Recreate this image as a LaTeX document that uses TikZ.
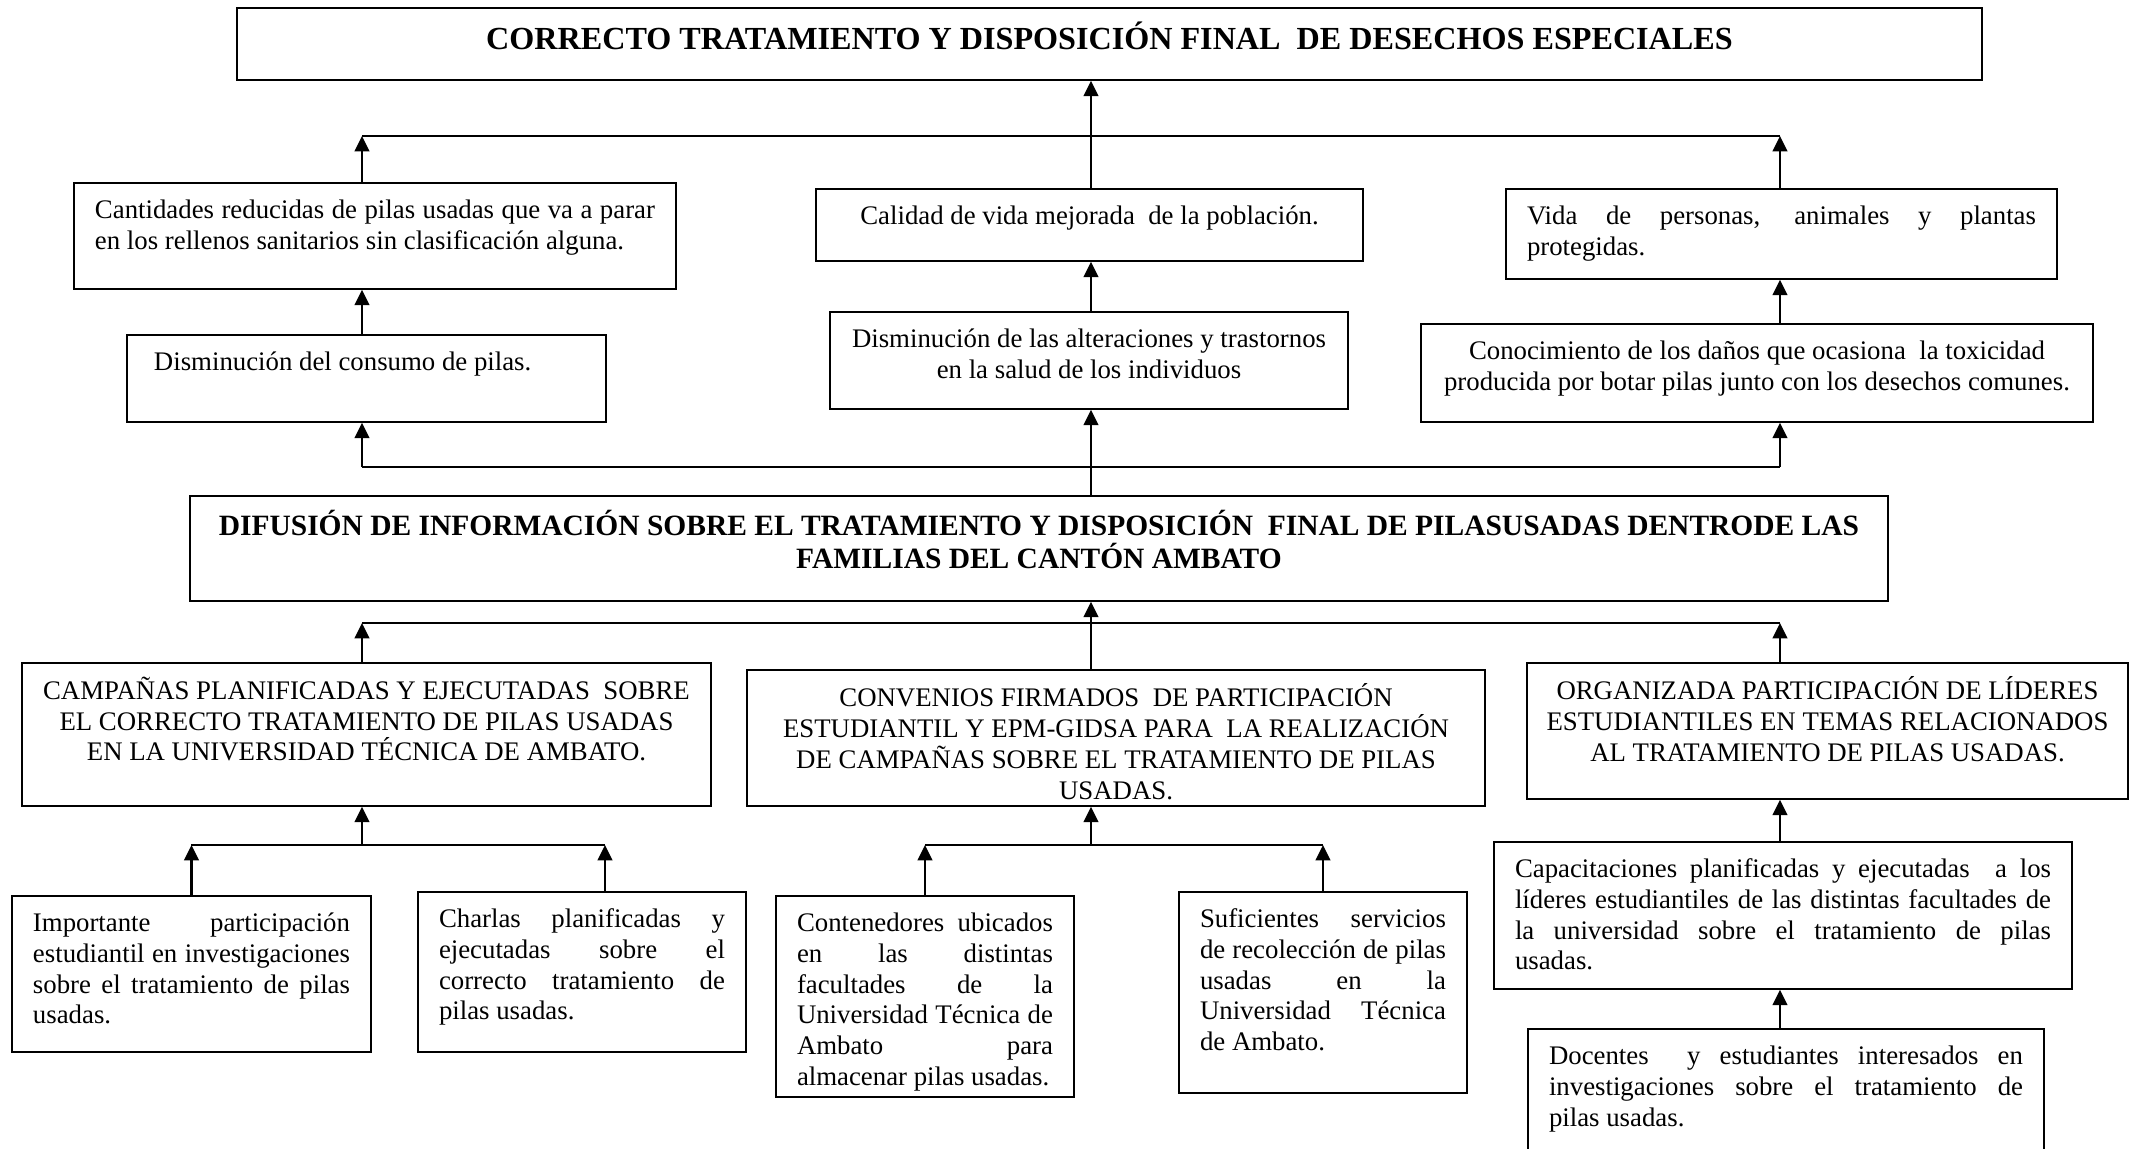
\documentclass[tikz,border=0pt]{standalone}
\usepackage{fontspec}
\setmainfont{Liberation Serif}
\usetikzlibrary{arrows.meta}
\newlength\upx
\setlength\upx{0.4478pt}
\tolerance=9999
\emergencystretch=2em
\hyphenpenalty=10000
\exhyphenpenalty=10000
% caja de texto con alto fijo y texto arriba
\newcommand{\cajatexto}[4][]{\parbox[c][#3\upx][t]{#2\upx}{\lineskiplimit=-\maxdimen #1\strut #4}}
\tikzset{
  caja/.style={draw, line width=0.9pt, anchor=north west, inner xsep=9.4pt, inner ysep=6.2pt, font=\fontsize{12}{13.8}\selectfont},
  cajac/.style={caja, inner xsep=1.8pt},
  titulo/.style={cajac, font=\bfseries\fontsize{14.4}{16.6}\selectfont},
  flecha/.style={-{Triangle[length=6.9pt,width=6.6pt]}, line width=0.9pt},
  barra/.style={line width=0.9pt}
}
\begin{document}
\begin{tikzpicture}[x=0.4478pt, y=-0.4478pt]
    \useasboundingbox (0,0) rectangle (2139,1149);

    % fin
    \node[titulo] (fin) at (236,7) {\cajatexto[\centering]{1737}{44}{CORRECTO TRATAMIENTO Y DISPOSICIÓN FINAL\ \ DE DESECHOS ESPECIALES}};

    % efectos
    \node[caja] (cant) at (73,182) {\cajatexto{560}{78}{Cantidades reducidas de pilas usadas que va a parar\linebreak en los rellenos sanitarios sin clasificación alguna.}};
    \node[cajac] (calidad) at (815,188) {\cajatexto[\centering]{539}{44}{Calidad de vida mejorada\ \ de la población.}};
    \node[caja] (vida) at (1505,188) {\cajatexto{509}{62}{Vida de personas, animales y plantas\linebreak protegidas.}};
    \node[caja] (dcons) at (126,334) {\cajatexto[\raggedright]{437}{59}{\hspace*{6\upx}Disminución del consumo de pilas.}};
    \node[cajac] (dalt) at (829,311) {\cajatexto[\centering]{510}{69}{Disminución de las alteraciones y trastornos\\ en la salud de los individuos}};
    \node[cajac] (conoc) at (1420,323) {\cajatexto[\centering]{664}{70}{Conocimiento de los daños que ocasiona\ \ la toxicidad\\ producida por botar pilas junto con los desechos comunes.}};

    % problema central
    \node[cajac, font=\bfseries\fontsize{13.2}{15.1}\selectfont] (difu) at (189,495) {\cajatexto[\centering]{1690}{77}{DIFUSIÓN DE INFORMACIÓN SOBRE EL TRATAMIENTO Y DISPOSICIÓN\ \ FINAL DE PILASUSADAS DENTRODE LAS\\ FAMILIAS DEL CANTÓN AMBATO}};

    % medios
    \node[cajac] (camp) at (21,662) {\cajatexto[\centering]{681}{115}{CAMPAÑAS PLANIFICADAS Y EJECUTADAS\ \ SOBRE\\ EL CORRECTO TRATAMIENTO DE PILAS USADAS\\ EN LA UNIVERSIDAD TÉCNICA DE AMBATO.}};
    \node[cajac] (conv) at (746,669) {\cajatexto[\centering]{730}{108}{CONVENIOS FIRMADOS\ \ DE PARTICIPACIÓN\\ ESTUDIANTIL Y EPM-GIDSA PARA\ \ LA REALIZACIÓN\\ DE CAMPAÑAS SOBRE EL TRATAMIENTO DE PILAS\\ USADAS.}};
    \node[cajac] (orga) at (1526,662) {\cajatexto[\centering]{593}{108}{ORGANIZADA PARTICIPACIÓN DE LÍDERES\\ ESTUDIANTILES EN TEMAS RELACIONADOS\\ AL TRATAMIENTO DE PILAS USADAS.}};

    % actividades
    \node[caja] (impo) at (11,895) {\cajatexto{317}{128}{Importante participación\linebreak estudiantil en investigaciones\linebreak sobre el tratamiento de pilas\linebreak usadas.}};
    \node[caja] (charl) at (417,891) {\cajatexto{286}{132}{Charlas planificadas y\linebreak ejecutadas sobre el\linebreak correcto tratamiento de\linebreak pilas usadas.}};
    \node[caja] (conte) at (775,895) {\cajatexto{256}{173}{Contenedores ubicados\linebreak en las distintas\linebreak facultades de la\linebreak Universidad Técnica de\linebreak Ambato para\linebreak almacenar pilas usadas.}};
    \node[caja] (sufi) at (1178,891) {\cajatexto{246}{173}{Suficientes servicios\linebreak de recolección de pilas\linebreak usadas en la\linebreak Universidad Técnica\linebreak de Ambato.}};
    \node[caja] (capa) at (1493,841) {\cajatexto{536}{119}{Capacitaciones planificadas y ejecutadas\ \ a los\linebreak líderes estudiantiles de las distintas facultades de\linebreak la universidad sobre el tratamiento de pilas\linebreak usadas.}};
    \node[caja] (doce) at (1527,1028) {\cajatexto{474}{118}{Docentes\ \ y estudiantes interesados en\linebreak investigaciones sobre el tratamiento de\linebreak pilas usadas.}};

    % columnas y barras
    \coordinate (izq) at (362,0);
    \coordinate (eje) at (1091,0);
    \coordinate (der) at (1780,0);
    \coordinate (colcharl) at (605,0);
    \coordinate (barA) at (0,136);
    \coordinate (barB) at (0,467);
    \coordinate (barC) at (0,623);
    \coordinate (barD) at (0,845);

    \draw[barra] (izq |- barA) -- (der |- barA);
    \draw[barra] (izq |- barB) -- (der |- barB);
    \draw[barra] (izq |- barC) -- (der |- barC);
    \draw[barra] (impo.north |- barD) -- (colcharl |- barD);
    \draw[barra] (conte.north |- barD) -- (sufi.north |- barD);

    \foreach \desde/\hasta in {
      eje |- calidad.north/eje |- fin.south, izq |- cant.north/izq |- barA, der |- vida.north/der |- barA,
      izq |- dcons.north/izq |- cant.south, eje |- dalt.north/eje |- calidad.south, der |- conoc.north/der |- vida.south,
      izq |- barB/izq |- dcons.south, der |- barB/der |- conoc.south, eje |- difu.north/eje |- dalt.south,
      eje |- conv.north/eje |- difu.south, izq |- camp.north/izq |- barC, der |- orga.north/der |- barC,
      izq |- barD/izq |- camp.south, impo.north/impo.north |- barD, colcharl |- charl.north/colcharl |- barD,
      eje |- barD/eje |- conv.south, conte.north/conte.north |- barD, sufi.north/sufi.north |- barD,
      der |- capa.north/der |- orga.south, der |- doce.north/der |- capa.south}
      \draw[flecha] (\desde) -- (\hasta);
\end{tikzpicture}
\end{document}
